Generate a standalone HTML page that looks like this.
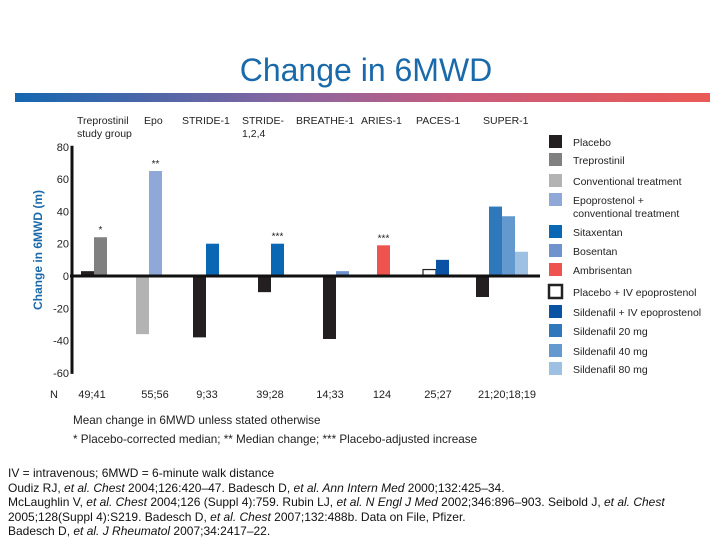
<!DOCTYPE html>
<html><head><meta charset="utf-8"><style>
body{margin:0;width:720px;height:540px;background:#fff;font-family:"Liberation Sans",sans-serif;overflow:hidden;position:relative}
.t{position:absolute;white-space:nowrap;color:#222}
</style></head><body>
<div class="t" style="left:0;width:732px;text-align:center;top:52px;font-size:32px;color:#1a6aab">Change in 6MWD</div>
<div style="position:absolute;left:15px;top:93px;width:695px;height:9px;background:linear-gradient(90deg,#1467b0,#8a66a0 40%,#c95c7c 65%,#ea5a55)"></div>
<svg id="c" width="720" height="540" style="position:absolute;left:0;top:0"></svg>
<div class="t" style="left:73px;top:414px;font-size:11.7px">Mean change in 6MWD unless stated otherwise</div>
<div class="t" style="left:73px;top:433px;font-size:11.7px">* Placebo-corrected median; ** Median change; *** Placebo-adjusted increase</div>
<div class="t" style="left:8px;top:466px;font-size:12px;line-height:14.5px;color:#111">IV = intravenous; 6MWD = 6-minute walk distance<br>Oudiz RJ, <i>et al. Chest</i> 2004;126:420–47. Badesch D, <i>et al. Ann Intern Med</i> 2000;132:425–34.<br>McLaughlin V, <i>et al. Chest</i> 2004;126 (Suppl 4):759. Rubin LJ, <i>et al. N Engl J Med</i> 2002;346:896–903. Seibold J, <i>et al. Chest</i><br>2005;128(Suppl 4):S219. Badesch D, <i>et al. Chest</i> 2007;132:488b. Data on File, Pfizer.<br>Badesch D, <i>et al. J Rheumatol</i> 2007;34:2417–22.</div>
<script>
const groups=["Treprostinil\nstudy group","Epo","STRIDE-1","STRIDE-\n1,2,4","BREATHE-1","ARIES-1","PACES-1","SUPER-1"];
const groupNs=["49;41","55;56","9;33","39;28","14;33","124","25;27","21;20;18;19"];
const seriesNames=["Placebo","Treprostinil","Conventional treatment","Epoprostenol +\nconventional treatment","Sitaxentan","Bosentan","Ambrisentan","Placebo + IV epoprostenol","Sildenafil + IV epoprostenol","Sildenafil 20 mg","Sildenafil 40 mg","Sildenafil 80 mg"];
const seriesColors=["#231f20","#808080","#b3b3b3","#8fa8d8","#0a67b4","#6f93cc","#ef5350","#ffffff","#0a52a3","#2f78bb","#6399cf","#9dc0e3"];
// bars: [group, series, value, annotation]
const barGroup=[0,0,1,1,2,2,3,3,4,4,5,6,6,7,7,7,7];
const barSeries=[0,1,2,3,0,4,0,4,0,5,6,7,8,0,9,10,11];
const barValues=[3,24,-36,65,-38,20,-10,20,-39,3,19,4,10,-13,43,37,15];
const barNotes=["","*","","**","","","","***","","","***","","","","","",""];
const yTicks=[80,60,40,20,0,-20,-40,-60];
const groupStart=[81,136,193,258,323,377,423,476];
const groupLabelX=[77,144,182,242,296,361,416,483];
const groupNX=[92,155,207,270,330,382,438,507];
const svg=document.getElementById('c');const NS='http://www.w3.org/2000/svg';
const y=v=>276-v*1.615;const BW=13;
function el(t,a){const e=document.createElementNS(NS,t);for(const k in a)e.setAttribute(k,a[k]);svg.appendChild(e);return e;}
const cnt=[0,0,0,0,0,0,0,0];
barValues.forEach((v,i)=>{const g=barGroup[i];const x=groupStart[g]+cnt[g]*BW;cnt[g]++;
const s=barSeries[i];
const r=el('rect',{x:x,y:Math.min(y(v),y(0)),width:BW,height:Math.abs(y(v)-y(0)),fill:seriesColors[s],stroke:s==7?'#222':'none','stroke-width':1.2});


if(barNotes[i]){const t=el('text',{x:x+BW/2,y:y(v)-4,'text-anchor':'middle','font-size':10,fill:'#222'});t.textContent=barNotes[i];

}
});
const ax=el('line',{x1:72,y1:y(80)-1,x2:72,y2:y(-60)+1,stroke:'#111','stroke-width':3});


const zl=el('line',{x1:70,y1:y(0),x2:540,y2:y(0),stroke:'#111','stroke-width':3});


yTicks.forEach(v=>{const t=el('text',{x:69,y:y(v)+4,'text-anchor':'end','font-size':11,fill:'#222'});t.textContent=v;

});
const yt=el('text',{x:0,y:0,transform:'translate(42,250) rotate(-90)','text-anchor':'middle','font-size':12,'font-weight':'bold',fill:'#1a6aab'});yt.textContent='Change in 6MWD (m)';


groups.forEach((g,i)=>{g.split('\n').forEach((ln,j)=>{const t=el('text',{x:groupLabelX[i],y:124+j*13,'text-anchor':'start','font-size':10.5,fill:'#222'});t.textContent=ln;

});
const n=el('text',{x:groupNX[i],y:398,'text-anchor':'middle','font-size':11,fill:'#222'});n.textContent=groupNs[i];

});
const nl=el('text',{x:50,y:398,'font-size':11,fill:'#222'});nl.textContent='N';


const legY=[142,160,181,200,232,251,270,292,312,331,351,369];
seriesNames.forEach((s,i)=>{const r=el('rect',{x:549,y:legY[i]-7,width:13,height:13,fill:seriesColors[i],stroke:i==7?'#222':'none','stroke-width':i==7?2.5:0});


s.split('\n').forEach((ln,j)=>{const t=el('text',{x:573,y:legY[i]+4+j*13,'font-size':10.5,fill:'#222'});t.textContent=ln;

});});
</script>
</body></html>
